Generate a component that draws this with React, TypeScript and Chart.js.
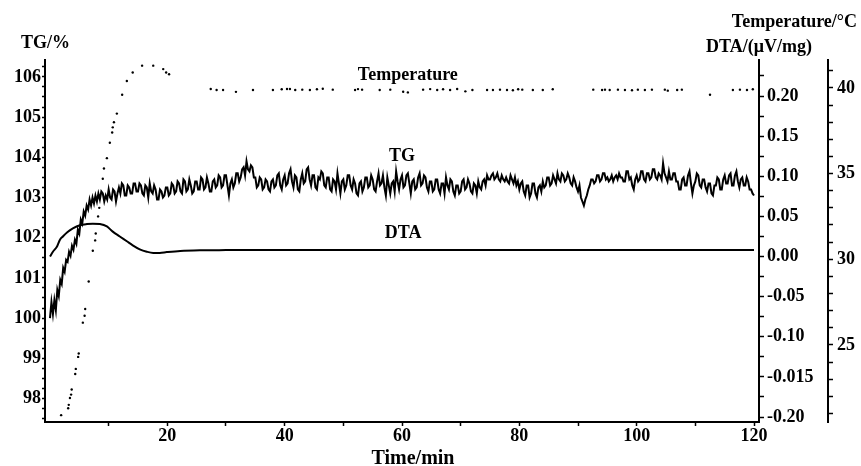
import React, { useEffect, useRef } from 'react';
import { Chart, registerables } from 'chart.js';

Chart.register(...registerables);

// ---- TG series (sampled every 0.25 min from t = 0) ----
const tgStartTime = 0;
const tgTimeStep = 0.25;
const tgValues = [
  // 0 - 9.75 min
  100.0, 100.4, 100.1, 100.45, 100.2, 100.7, 100.55, 100.95, 100.85, 101.25,
  101.15, 101.45, 101.4, 101.65, 101.55, 101.8, 101.7, 101.95, 101.85, 102.2,
  102.1, 102.45, 102.35, 102.65, 102.55, 102.8, 102.7, 102.95, 102.8, 103.0,
  102.85, 103.05, 102.9, 103.1, 102.95, 103.15, 103.1, 102.9, 103.05, 102.95,
  // 10 - 19.75
  103.2, 103.0, 102.95, 103.2, 103.15, 102.9, 103.1, 103.25, 103.1, 103.35,
  103.3, 103.05, 103.05, 103.3, 103.25, 103.1, 103.1, 103.35, 103.35, 103.15,
  103.15, 103.35, 103.3, 103.1, 103.05, 103.3, 103.25, 103.0, 103.35, 103.15,
  103.1, 103.3, 103.2, 102.95, 102.95, 103.2, 103.15, 103.0, 103.05, 103.25,
  // 20 - 29.75
  103.25, 103.05, 103.1, 103.35, 103.3, 103.1, 103.15, 103.4, 103.35, 103.15,
  103.1, 103.45, 103.4, 103.15, 103.2, 103.45, 103.3, 103.1, 103.15, 103.4,
  103.4, 103.2, 103.2, 103.5, 103.45, 103.2, 103.25, 103.5, 103.35, 103.15,
  103.15, 103.4, 103.45, 103.25, 103.3, 103.55, 103.5, 103.25, 103.3, 103.55,
  // 30 - 39.75
  103.55, 103.3, 103.05, 103.35, 103.45, 103.25, 103.35, 103.6, 103.6, 103.4,
  103.5, 103.7, 103.75, 103.55, 103.9, 103.7, 103.65, 103.8, 103.75, 103.5,
  103.5, 103.25, 103.3, 103.5, 103.45, 103.2, 103.25, 103.45, 103.4, 103.2,
  103.15, 103.4, 103.45, 103.25, 103.3, 103.55, 103.6, 103.3, 103.2, 103.45,
  // 40 - 49.75
  103.55, 103.3, 103.35, 103.6, 103.7, 103.4, 103.25, 103.55, 103.5, 103.2,
  103.15, 103.45, 103.6, 103.35, 103.4, 103.7, 103.75, 103.45, 103.3, 103.55,
  103.55, 103.25, 103.2, 103.5, 103.45, 103.65, 103.6, 103.3, 103.25, 103.5,
  103.5, 103.2, 103.15, 103.45, 103.4, 103.2, 103.6, 103.35, 103.1, 103.4,
  // 50 - 59.75
  103.45, 103.2, 103.3, 103.55, 103.55, 103.3, 103.2, 103.45, 103.35, 103.1,
  103.05, 103.35, 103.4, 103.15, 103.25, 103.5, 103.5, 103.25, 103.3, 103.55,
  103.45, 103.2, 103.15, 103.4, 103.6, 103.3, 103.35, 103.55, 103.25, 103.05,
  103.5, 103.3, 103.1, 103.35, 103.4, 103.15, 103.65, 103.4, 103.2, 103.45,
  // 60 - 69.75
  103.55, 103.25, 103.3, 103.55, 103.6, 103.35, 103.1, 103.4, 103.45, 103.2,
  103.25, 103.5, 103.6, 103.3, 103.35, 103.55, 103.5, 103.25, 103.15, 103.4,
  103.4, 103.15, 103.2, 103.45, 103.45, 103.2, 103.1, 103.35, 103.35, 103.1,
  103.5, 103.3, 103.2, 103.45, 103.4, 103.15, 103.05, 103.3, 103.3, 103.1,
  // 70 - 79.75
  103.15, 103.4, 103.45, 103.2, 103.25, 103.45, 103.35, 103.15, 103.1, 103.35,
  103.3, 103.1, 103.4, 103.25, 103.2, 103.4, 103.45, 103.3, 103.55, 103.45,
  103.45, 103.55, 103.6, 103.45, 103.5, 103.6, 103.45, 103.4, 103.55, 103.45,
  103.4, 103.5, 103.4, 103.35, 103.55, 103.45, 103.35, 103.5, 103.3, 103.4,
  // 80 - 89.75
  103.2, 103.35, 103.4, 103.15, 103.05, 103.3, 103.3, 103.0, 103.1, 103.35,
  103.35, 103.1, 103.0, 103.25, 103.3, 103.15, 103.4, 103.25, 103.3, 103.5,
  103.5, 103.3, 103.35, 103.55, 103.45, 103.35, 103.6, 103.45, 103.4, 103.6,
  103.55, 103.4, 103.45, 103.6, 103.5, 103.35, 103.3, 103.5, 103.4, 103.25,
  // 90 - 99.75
  103.15, 103.3, 103.0, 102.9, 102.8, 102.95, 103.05, 103.2, 103.3, 103.45,
  103.45, 103.35, 103.4, 103.55, 103.55, 103.4, 103.45, 103.6, 103.6, 103.45,
  103.5, 103.4, 103.45, 103.55, 103.4, 103.5, 103.55, 103.45, 103.6, 103.5,
  103.5, 103.4, 103.4, 103.65, 103.65, 103.45, 103.5, 103.3, 103.2, 103.45,
  // 100 - 109.75
  103.55, 103.4, 103.45, 103.65, 103.65, 103.45, 103.4, 103.6, 103.6, 103.45,
  103.5, 103.7, 103.7, 103.5, 103.45, 103.6, 103.55, 103.45, 103.85, 103.6,
  103.5, 103.4, 103.65, 103.45, 103.45, 103.6, 103.6, 103.4, 103.4, 103.2,
  103.2, 103.45, 103.5, 103.3, 103.3, 103.55, 103.65, 103.35, 103.1, 103.3,
  // 110 - 119.75
  103.4, 103.6, 103.55, 103.3, 103.25, 103.45, 103.45, 103.25, 103.15, 103.35,
  103.35, 103.1, 103.05, 103.3, 103.3, 103.5, 103.45, 103.2, 103.2, 103.45,
  103.55, 103.35, 103.35, 103.55, 103.6, 103.3, 103.3, 103.55, 103.65, 103.4,
  103.25, 103.45, 103.5, 103.3, 103.3, 103.5, 103.4, 103.2, 103.2, 103.1,
  // 120
  103.05,
];

// ---- DTA series ----
const dtaTimes = [0, 0.5, 1.2, 1.7, 2.2, 2.9, 3.9, 5.1, 6.3, 7.3, 8.5, 9.7, 10.7, 11.9, 13.1, 14.1, 15.3, 16.5, 17.6, 18.7, 19.9, 22.2, 25.6, 30, 40, 50, 60, 70, 80, 90, 100, 110, 120];
const dtaValues = [0.0, 0.006, 0.0125, 0.021, 0.025, 0.03, 0.035, 0.039, 0.0405, 0.041, 0.0405, 0.0375, 0.031, 0.025, 0.019, 0.014, 0.009, 0.006, 0.0045, 0.0045, 0.0055, 0.007, 0.0078, 0.008, 0.0082, 0.008, 0.0082, 0.008, 0.0081, 0.0082, 0.008, 0.0081, 0.008];

// ---- Temperature series (dotted) ----
const tempTimes = [
  1.9, 3.1, 3.2, 3.4, 3.6, 3.7, 4.3, 4.4, 4.8, 4.9, 5.6, 5.9, 6.0, 6.6, 7.3, 7.7, 7.8, 8.2, 8.4, 9.0, 9.2, 9.7, 10.2, 10.6, 10.7, 10.9, 11.4, 12.3, 13.1, 14.1, 15.7, 17.6, 19.3, 19.8, 20.3,
  27.4, 28.4, 29.5, 31.7, 34.6, 38.0, 39.5, 40.4, 40.9, 41.8, 43.0, 44.3, 45.5, 46.5, 48.2, 52.0, 52.5, 53.2, 56.2, 58.0, 60.2, 61.0, 63.6, 64.8, 66.0, 67.0, 68.2, 69.4, 70.8, 72.0,
  74.5, 75.5, 76.7, 77.9, 78.9, 79.8, 80.5, 82.3, 84.0, 85.7, 92.6, 94.1, 94.6, 95.4, 96.8, 98.0, 99.2, 100.2, 101.4, 102.6, 104.8, 105.3, 106.9, 107.7, 112.5, 116.4, 117.6, 118.8, 119.8,
];
const tempValues = [
  20.9, 21.3, 21.5, 21.9, 22.1, 22.4, 23.3, 23.6, 24.3, 24.5, 26.3, 26.7, 27.1, 28.7, 30.5, 31.1, 31.5, 32.5, 33.0, 34.7, 35.3, 35.9, 36.8, 37.4, 37.7, 38.0, 38.5, 39.6, 40.4, 40.9, 41.3, 41.3, 41.1, 40.9, 40.8,
  39.94, 39.88, 39.88, 39.77, 39.88, 39.88, 39.92, 39.94, 39.94, 39.88, 39.9, 39.88, 39.92, 39.95, 39.9, 39.88, 39.93, 39.9, 39.88, 39.9, 39.78, 39.74, 39.9, 39.93, 39.88, 39.92, 39.88, 39.94, 39.8, 39.88,
  39.88, 39.88, 39.9, 39.88, 39.86, 39.92, 39.9, 39.88, 39.88, 39.92, 39.9, 39.88, 39.9, 39.88, 39.9, 39.88, 39.86, 39.9, 39.88, 39.9, 39.9, 39.84, 39.88, 39.9, 39.6, 39.88, 39.9, 39.88, 39.92,
];

// ---- Axis ticks and labels ----
const timeTickValues = [10, 20, 30, 40, 50, 60, 70, 80, 90, 100, 110, 120];
const timeLabelValues = [20, 40, 60, 80, 100, 120];
const timeLabels = ['20', '40', '60', '80', '100', '120'];

const tgTickValues = [97.5, 97.75, 98, 98.25, 98.5, 98.75, 99, 99.25, 99.5, 99.75, 100, 100.25, 100.5, 100.75, 101, 101.25, 101.5, 101.75, 102, 102.25, 102.5, 102.75, 103, 103.25, 103.5, 103.75, 104, 104.25, 104.5, 104.75, 105, 105.25, 105.5, 105.75, 106, 106.25];
const tgLabelValues = [98, 99, 100, 101, 102, 103, 104, 105, 106];
const tgLabels = ['98', '99', '100', '101', '102', '103', '104', '105', '106'];

const dtaTickValues = [-0.2, -0.175, -0.15, -0.125, -0.1, -0.075, -0.05, -0.025, 0, 0.025, 0.05, 0.075, 0.1, 0.125, 0.15, 0.175, 0.2, 0.225];
const dtaLabelValues = [-0.2, -0.15, -0.1, -0.05, 0, 0.05, 0.1, 0.15, 0.2];
const dtaLabels = ['-0.20', '-0.015', '-0.10', '-0.05', '0.00', '0.05', '0.10', '0.15', '0.20'];

const tempTickValues = [21, 22, 23, 24, 25, 26, 27, 28, 29, 30, 31, 32, 33, 34, 35, 36, 37, 38, 39, 40, 41];
const tempLabelValues = [25, 30, 35, 40];
const tempLabels = ['25', '30', '35', '40'];

// ---- Titles and in-plot series labels ----
const tgAxisTitle = 'TG/%';
const tempAxisTitle = 'Temperature/°C';
const dtaAxisTitle = 'DTA/(μV/mg)';
const timeAxisTitle = 'Time/min';
const seriesLabels = ['Temperature', 'TG', 'DTA'];
const seriesLabelTimes = [61.0, 60.0, 60.2];
const seriesLabelValues = [40.76, 104.03, 0.0293];
const seriesLabelAxes = ['yT', 'yTG', 'yDTA'];

const FONT_FAMILY = '"Liberation Serif", "Times New Roman", serif';
const tickFont = { family: FONT_FAMILY, size: 18, weight: 'bold' as const };

function labelFor(v: number, values: number[], labels: string[]) {
  for (let i = 0; i < values.length; i++) {
    if (Math.abs(values[i] - v) < 1e-6) return labels[i];
  }
  return '';
}

const textPlugin = {
  id: 'textPlugin',
  afterDraw(chart: any) {
    const ctx = chart.ctx;
    ctx.save();
    ctx.fillStyle = '#000';
    ctx.font = `bold 18px ${FONT_FAMILY}`;
    ctx.textBaseline = 'alphabetic';
    ctx.textAlign = 'left';
    ctx.fillText(tgAxisTitle, 21, 48);
    ctx.textAlign = 'right';
    ctx.fillText(tempAxisTitle, 857, 27);
    ctx.textAlign = 'center';
    ctx.fillText(dtaAxisTitle, 759, 52);
    ctx.font = `bold 20px ${FONT_FAMILY}`;
    ctx.fillText(timeAxisTitle, 413, 464);

    ctx.font = `bold 18px ${FONT_FAMILY}`;
    ctx.textBaseline = 'middle';
    const xs = chart.scales.x;
    for (let i = 0; i < seriesLabels.length; i++) {
      const ys = chart.scales[seriesLabelAxes[i]];
      const px = xs.getPixelForValue(seriesLabelTimes[i]);
      const py = ys.getPixelForValue(seriesLabelValues[i]);
      ctx.fillText(seriesLabels[i], px, py);
    }
    ctx.restore();
  },
};

function axisCommon(tickLength: number, padding: number, values: number[], labelValues: number[], labels: string[]) {
  return {
    afterBuildTicks: (s: any) => {
      s.ticks = values.map((v) => ({ value: v }));
    },
    ticks: {
      autoSkip: false,
      maxRotation: 0,
      minRotation: 0,
      padding,
      color: '#000',
      font: tickFont,
      callback: (v: any) => labelFor(Number(v), labelValues, labels),
    },
    grid: {
      drawOnChartArea: false,
      drawTicks: true,
      tickLength,
      tickColor: '#000',
      tickWidth: 1.5,
    },
    border: { display: true, color: '#000', width: 2 },
  };
}

export default function App() {
  const canvasRef = useRef<HTMLCanvasElement | null>(null);

  useEffect(() => {
    if (!canvasRef.current) return;
    const tgData = tgValues.map((v, i) => ({ x: tgStartTime + i * tgTimeStep, y: v }));
    const dtaData = dtaValues.map((v, i) => ({ x: dtaTimes[i], y: v }));
    const tempData = tempValues.map((v, i) => ({ x: tempTimes[i], y: v }));

    const chart = new Chart(canvasRef.current, {
      type: 'line',
      data: {
        datasets: [
          {
            label: 'TG',
            data: tgData,
            yAxisID: 'yTG',
            borderColor: '#000',
            borderWidth: 2,
            pointRadius: 0,
            tension: 0,
            fill: false,
          },
          {
            label: 'DTA',
            data: dtaData,
            yAxisID: 'yDTA',
            borderColor: '#000',
            borderWidth: 2,
            pointRadius: 0,
            cubicInterpolationMode: 'monotone',
            fill: false,
          },
          {
            label: 'Temperature',
            data: tempData,
            yAxisID: 'yT',
            showLine: false,
            borderColor: '#000',
            backgroundColor: '#000',
            pointRadius: 1.2,
            pointBorderWidth: 0,
            pointBackgroundColor: '#000',
          },
        ],
      },
      options: {
        animation: false,
        responsive: false,
        devicePixelRatio: 1,
        parsing: false,
        layout: { padding: { top: 60, left: 0, right: 0, bottom: 0 } },
        plugins: {
          legend: { display: false },
          tooltip: { enabled: false },
          title: { display: false },
        },
        scales: {
          x: {
            type: 'linear',
            position: 'bottom',
            min: -0.85,
            max: 120.85,
            afterFit: (s: any) => {
              s.height = 44;
            },
            ...axisCommon(4, 0, timeTickValues, timeLabelValues, timeLabels),
          },
          yTG: {
            type: 'linear',
            position: 'left',
            min: 97.415,
            max: 106.42,
            afterFit: (s: any) => {
              s.width = 45;
            },
            ...axisCommon(3, 1, tgTickValues, tgLabelValues, tgLabels),
          },
          yDTA: {
            type: 'linear',
            position: 'right',
            weight: 0,
            min: -0.2062,
            max: 0.2449,
            afterFit: (s: any) => {
              s.width = 69;
            },
            ...axisCommon(5, 3, dtaTickValues, dtaLabelValues, dtaLabels),
          },
          yT: {
            type: 'linear',
            position: 'right',
            weight: 1,
            min: 20.5,
            max: 41.63,
            afterFit: (s: any) => {
              s.width = 33;
            },
            ...axisCommon(5, 4, tempTickValues, tempLabelValues, tempLabels),
          },
        },
      } as any,
      plugins: [textPlugin],
    });
    return () => chart.destroy();
  }, []);

  return (
    <div style={{ position: 'absolute', left: 0, top: 0, width: 861, height: 466, background: '#fff' }}>
      <canvas ref={canvasRef} width={861} height={466} style={{ display: 'block', width: 861, height: 466 }} />
    </div>
  );
}
